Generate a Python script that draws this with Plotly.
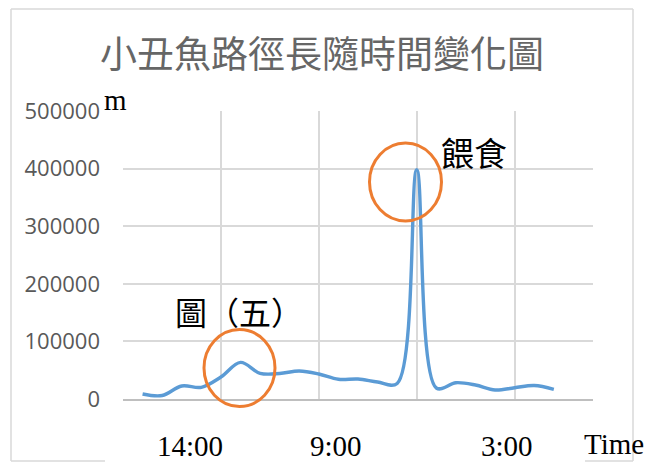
import plotly.graph_objects as go

# ---- data ----
x_index = list(range(1, 23))
path_length = [8700, 6100, 22600, 20300, 38200, 63500, 44600, 44300, 48600, 43400, 34200,
               34700, 29500, 27000, 398000, 19100, 28300, 24300, 15600, 19600, 23400, 16800]
time_labels = ["14:00", "9:00", "3:00"]
time_label_pos = [3.42, 10.9, 19.6]
title_text = "小丑魚路徑長隨時間變化圖"
y_ticks = [0, 100000, 200000, 300000, 400000, 500000]

W, H = 648, 463
L, R, T, B = 123, 55, 111, 64
PW, PH = W - L - R, H - T - B


def px(xp):
    return (xp - L) / PW


def py(yp):
    return (H - B - yp) / PH


fig = go.Figure()
fig.add_trace(go.Scatter(
    x=x_index, y=path_length, mode="lines",
    line=dict(color="#5B9BD5", width=3.4, shape="spline", smoothing=1),
    hoverinfo="skip", showlegend=False,
))

serif = "Liberation Serif, Times New Roman, serif"
cjk = "Noto Sans CJK TC, Noto Sans CJK JP, sans-serif"

annotations = []
for lab, pos in zip(time_labels, time_label_pos):
    annotations.append(dict(x=pos, xref="x", y=py(446), yref="paper", text=lab,
                            showarrow=False, font=dict(family=serif, size=29, color="#000000"),
                            xanchor="center", yanchor="middle"))
annotations += [
    dict(x=px(115.5), y=py(100), xref="paper", yref="paper", text="m", showarrow=False,
         font=dict(family=serif, size=29, color="#000000"), xanchor="center", yanchor="middle"),
    dict(x=px(614), y=py(444), xref="paper", yref="paper", text="Time", showarrow=False,
         font=dict(family=serif, size=29, color="#000000"), xanchor="center", yanchor="middle"),
    dict(x=px(239), y=py(311), xref="paper", yref="paper", text="圖（五）", showarrow=False,
         font=dict(family=cjk, size=32, color="#000000"), xanchor="center", yanchor="middle"),
    dict(x=px(474), y=py(152), xref="paper", yref="paper", text="餵食", showarrow=False,
         font=dict(family=cjk, size=33, color="#000000"), xanchor="center", yanchor="middle"),
]

orange = "#ED7D31"
frame = "#D9D9D9"
shapes = [
    dict(type="circle", xref="paper", yref="paper", x0=px(204), x1=px(275), y0=py(406.5), y1=py(329.5),
         line=dict(color=orange, width=3)),
    dict(type="circle", xref="paper", yref="paper", x0=px(369.5), x1=px(441.5), y0=py(221), y1=py(143),
         line=dict(color=orange, width=3)),
    # outer frame
    dict(type="line", xref="paper", yref="paper", x0=px(11), x1=px(11), y0=py(9), y1=py(461),
         line=dict(color=frame, width=1.5)),
    dict(type="line", xref="paper", yref="paper", x0=px(11), x1=px(633), y0=py(9), y1=py(9),
         line=dict(color=frame, width=1.5)),
    dict(type="line", xref="paper", yref="paper", x0=px(633), x1=px(633), y0=py(9), y1=py(461),
         line=dict(color=frame, width=1.5)),
    dict(type="line", xref="paper", yref="paper", x0=px(11), x1=px(105), y0=py(461), y1=py(461),
         line=dict(color=frame, width=1.5)),
    dict(type="line", xref="paper", yref="paper", x0=px(585), x1=px(633), y0=py(461), y1=py(461),
         line=dict(color=frame, width=1.5)),
]

fig.update_layout(
    width=W, height=H,
    margin=dict(l=L, r=R, t=T, b=B, pad=0),
    paper_bgcolor="white", plot_bgcolor="white",
    title=dict(text=title_text, x=px(322), y=1 - 55 / H, xref="paper", yref="container",
               xanchor="center", yanchor="middle",
               font=dict(family=cjk, size=37, color="#666666")),
    xaxis=dict(range=[0, 24], tickvals=[0, 5, 10, 15, 20], showticklabels=False, ticks="",
               showgrid=True, gridcolor="#D9D9D9", gridwidth=1.6,
               showline=True, linecolor="#BFBFBF", linewidth=1.5, zeroline=False, fixedrange=True),
    yaxis=dict(range=[0, 500000], tickvals=y_ticks, tickformat="d", ticks="",
               ticklabelstandoff=22,
               tickfont=dict(family="Open Sans, Liberation Sans, sans-serif", size=22, color="#595959"),
               showgrid=True, gridcolor="#D9D9D9", gridwidth=1.6, zeroline=False,
               showline=False, fixedrange=True),
    annotations=annotations,
    shapes=shapes,
    showlegend=False,
)

fig.write_html("out.html", config={"displayModeBar": False},
               post_script="document.body.style.margin='0';document.body.style.padding='0';")
